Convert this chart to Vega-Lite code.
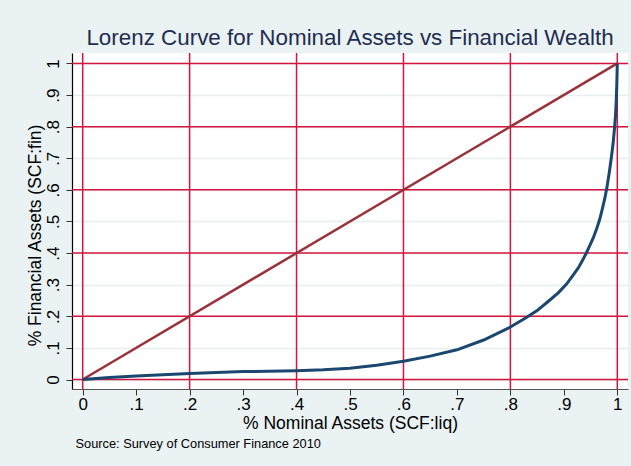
{
  "$schema": "https://vega.github.io/schema/vega-lite/v6.json",
  "width": 556,
  "height": 336,
  "autosize": {"type": "none"},
  "padding": {"left": 72, "top": 53, "right": 3, "bottom": 77},
  "background": "#eaf2f3",
  "title": {
    "text": "Lorenz Curve for Nominal Assets vs Financial Wealth",
    "fontSize": 22.4,
    "font": "Liberation Sans",
    "fontWeight": "normal",
    "color": "#1f2d50",
    "anchor": "middle",
    "offset": 3
  },
  "config": {
    "view": {"fill": "white", "stroke": null},
    "font": "Liberation Sans",
    "axisX": {
      "values": [0, 0.1, 0.2, 0.3, 0.4, 0.5, 0.6, 0.7, 0.8, 0.9, 1],
      "labelExpr": "datum.value == 0 ? '0' : datum.value == 1 ? '1' : replace(format(datum.value, '.1f'), '0.', '.')",
      "grid": false,
      "domainColor": "#555555",
      "domainWidth": 1.2,
      "tickColor": "#333333",
      "tickSize": 6,
      "labelFont": "Liberation Sans",
      "labelFontSize": 17,
      "labelColor": "#000000",
      "labelBaseline": "top",
      "labelPadding": 1,
      "labelFlush": false,
      "titleFont": "Liberation Sans",
      "titleFontSize": 17.5,
      "titleFontWeight": "normal",
      "titleColor": "#000000",
      "titleBaseline": "middle",
      "titleY": 34
    },
    "axisY": {
      "values": [0, 0.1, 0.2, 0.3, 0.4, 0.5, 0.6, 0.7, 0.8, 0.9, 1],
      "labelExpr": "datum.value == 0 ? '0' : datum.value == 1 ? '1' : replace(format(datum.value, '.1f'), '0.', '.')",
      "grid": true,
      "gridColor": "#e6eef0",
      "gridWidth": 1.5,
      "domainColor": "#000000",
      "domainWidth": 1.2,
      "tickColor": "#333333",
      "tickSize": 6,
      "labelFont": "Liberation Sans",
      "labelFontSize": 17,
      "labelColor": "#000000",
      "labelAngle": 270,
      "labelAlign": "center",
      "labelBaseline": "alphabetic",
      "labelPadding": 8,
      "labelFlush": false,
      "titleFont": "Liberation Sans",
      "titleFontSize": 17.5,
      "titleFontWeight": "normal",
      "titleColor": "#000000",
      "titleAngle": 270,
      "titleAlign": "center",
      "titleBaseline": "middle",
      "titleX": -37,
      "titleY": 182
    }
  },
  "datasets": {
    "grid": [{"v": 0}, {"v": 0.2}, {"v": 0.4}, {"v": 0.6}, {"v": 0.8}, {"v": 1}],
    "diag": [{"x": 0, "y": 0}, {"x": 1, "y": 1}],
    "curve": [
      {"x": 0, "y": 0},
      {"x": 0.05, "y": 0.006},
      {"x": 0.1, "y": 0.011},
      {"x": 0.2, "y": 0.019},
      {"x": 0.3, "y": 0.025},
      {"x": 0.4, "y": 0.028},
      {"x": 0.45, "y": 0.031},
      {"x": 0.5, "y": 0.036},
      {"x": 0.55, "y": 0.045},
      {"x": 0.6, "y": 0.058},
      {"x": 0.65, "y": 0.074},
      {"x": 0.7, "y": 0.094},
      {"x": 0.75, "y": 0.125},
      {"x": 0.8, "y": 0.166},
      {"x": 0.83, "y": 0.196},
      {"x": 0.85, "y": 0.218},
      {"x": 0.87, "y": 0.246},
      {"x": 0.89, "y": 0.275},
      {"x": 0.905, "y": 0.302},
      {"x": 0.915, "y": 0.325},
      {"x": 0.927, "y": 0.353},
      {"x": 0.935, "y": 0.377},
      {"x": 0.942, "y": 0.4},
      {"x": 0.948, "y": 0.422},
      {"x": 0.955, "y": 0.448},
      {"x": 0.961, "y": 0.475},
      {"x": 0.967, "y": 0.506},
      {"x": 0.972, "y": 0.54},
      {"x": 0.977, "y": 0.576},
      {"x": 0.981, "y": 0.612},
      {"x": 0.985, "y": 0.655},
      {"x": 0.989, "y": 0.704},
      {"x": 0.992, "y": 0.745},
      {"x": 0.9945, "y": 0.79},
      {"x": 0.9966, "y": 0.835},
      {"x": 0.998, "y": 0.88},
      {"x": 0.999, "y": 0.93},
      {"x": 1, "y": 1}
    ]
  },
  "layer": [
    {
      "data": {"name": "grid"},
      "mark": {"type": "rule", "color": "#d4143f", "strokeWidth": 1.5},
      "encoding": {
        "x": {
          "field": "v",
          "type": "quantitative",
          "scale": {"domain": [-0.02, 1.02], "nice": false, "zero": false},
          "axis": {"orient": "bottom"},
          "title": "% Nominal Assets (SCF:liq)"
        }
      }
    },
    {
      "data": {"name": "grid"},
      "mark": {"type": "rule", "color": "#d4143f", "strokeWidth": 1.5},
      "encoding": {
        "y": {
          "field": "v",
          "type": "quantitative",
          "scale": {"domain": [-0.03, 1.033], "nice": false, "zero": false},
          "title": "% Financial Assets (SCF:fin)"
        }
      }
    },
    {
      "data": {"name": "diag"},
      "mark": {"type": "line", "color": "#9a323a", "strokeWidth": 2.5},
      "encoding": {
        "x": {
          "field": "x",
          "type": "quantitative",
          "scale": {"domain": [-0.02, 1.02], "nice": false, "zero": false},
          "axis": {
            "orient": "bottom",
            "domain": false,
            "ticks": false,
            "labels": false,
            "grid": false,
            "title": "Source: Survey of Consumer Finance 2010",
            "titleFontSize": 12.8,
            "titleAnchor": "start",
            "titleAlign": "left",
            "titleBaseline": "middle",
            "titleX": 3,
            "titleY": 54
          }
        },
        "y": {
          "field": "y",
          "type": "quantitative",
          "scale": {"domain": [-0.03, 1.033], "nice": false, "zero": false},
          "title": "% Financial Assets (SCF:fin)"
        }
      }
    },
    {
      "data": {"name": "curve"},
      "mark": {"type": "line", "color": "#1a476f", "strokeWidth": 3},
      "encoding": {
        "x": {
          "field": "x",
          "type": "quantitative",
          "scale": {"domain": [-0.02, 1.02], "nice": false, "zero": false},
          "axis": null
        },
        "y": {
          "field": "y",
          "type": "quantitative",
          "scale": {"domain": [-0.03, 1.033], "nice": false, "zero": false},
          "title": "% Financial Assets (SCF:fin)"
        }
      }
    }
  ],
  "resolve": {"axis": {"x": "independent"}}
}
